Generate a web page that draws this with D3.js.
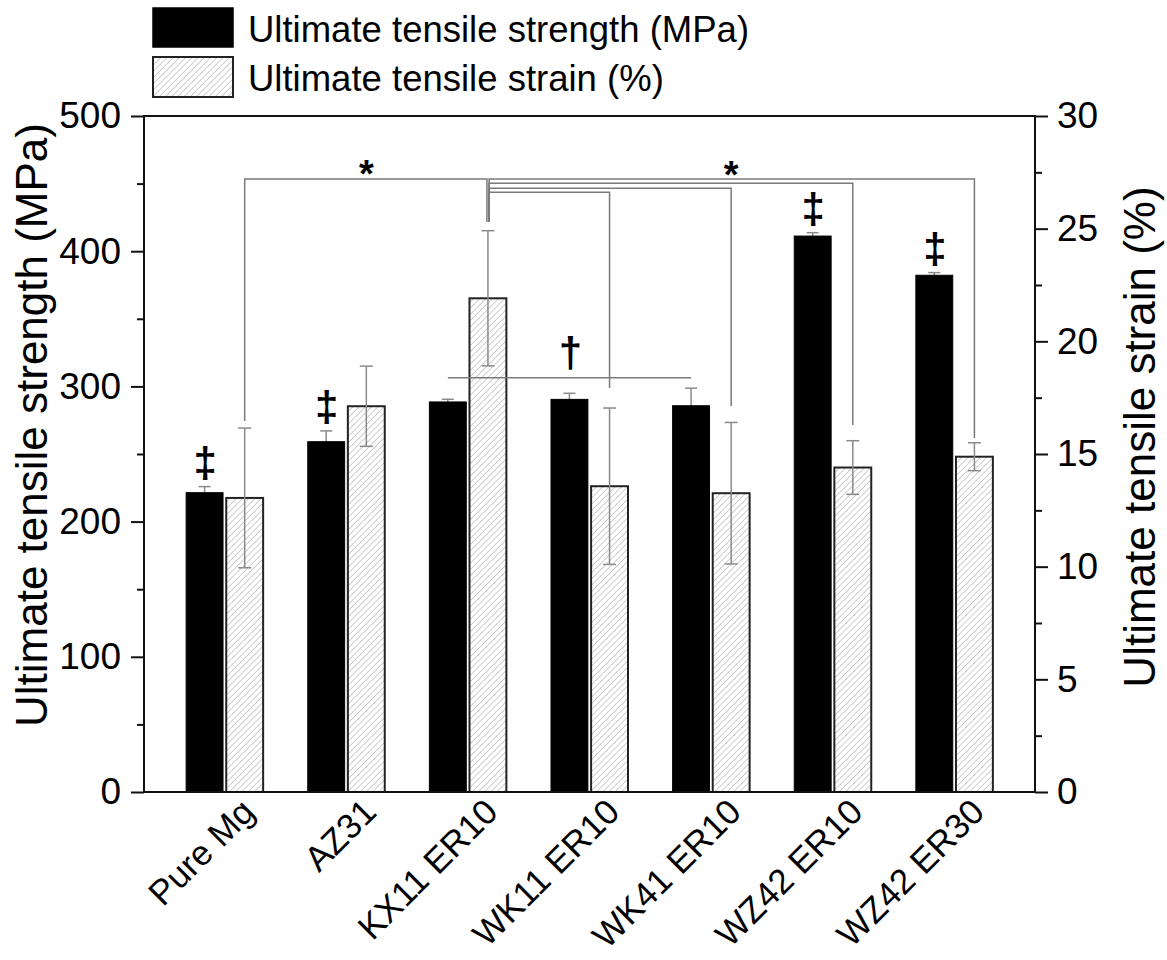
<!DOCTYPE html>
<html>
<head>
<meta charset="utf-8">
<script src="https://cdn.jsdelivr.net/npm/d3@7"></script>
<style>
  html, body { margin: 0; padding: 0; background: #fff; }
  svg { display: block; font-family: Arial, "Liberation Sans", sans-serif; }
</style>
</head>
<body>
<svg id="chart" width="1167" height="960"></svg>
<script>
// ---------- data ----------
const categories = ["Pure Mg", "AZ31", "KX11 ER10", "WK11 ER10", "WK41 ER10", "WZ42 ER10", "WZ42 ER30"];
const utsValues = [221.4, 259.1, 288.5, 290.4, 285.7, 411.2, 382.2];
const utsErrors = [4.5, 8, 2, 4.5, 13, 2.5, 2];
const strainValues = [13.05, 17.12, 21.91, 13.57, 13.26, 14.40, 14.88];
const strainErrors = [3.1, 1.78, 3.0, 3.47, 3.14, 1.19, 0.62];
const leftTicks = [0, 100, 200, 300, 400, 500];
const leftMinorTicks = [50, 150, 250, 350, 450];
const rightTicks = [0, 5, 10, 15, 20, 25, 30];
const rightMinorTicks = [2.5, 7.5, 12.5, 17.5, 22.5, 27.5];
const seriesNames = ["Ultimate tensile strength (MPa)", "Ultimate tensile strain (%)"];
const leftTitle = "Ultimate tensile strength (MPa)";
const rightTitle = "Ultimate tensile strain (%)";
// significance brackets (levels in MPa, between strain bars)
const bracketFrom = ["Pure Mg", "KX11 ER10", "KX11 ER10", "KX11 ER10", "KX11 ER10"];
const bracketTo = ["KX11 ER10", "WZ42 ER30", "WZ42 ER10", "WK41 ER10", "WK11 ER10"];
const bracketLevel = [453.4, 453.4, 450.2, 446.5, 443.6];
const bracketLegFrom = [274.4, 421.6, 421.6, 421.6, 421.6];
const bracketLegTo = [421.6, 261.8, 271.5, 285.5, 298.8];
const starBrackets = [0, 1];
// dagger line between strength bars
const daggerFrom = "KX11 ER10", daggerTo = "WK41 ER10", daggerLevel = 306.4;
const doubleDaggerCats = ["Pure Mg", "AZ31", "WZ42 ER10", "WZ42 ER30"];

// ---------- layout ----------
const svg = d3.select("#chart");
const L = 144, R = 1035, T = 116, B = 792;
const FONT = "Arial, 'Liberation Sans', sans-serif";

const x = d3.scalePoint().domain(categories).range([L, R]).padding(0.663);
const sub = d3.scaleBand().domain(["uts", "ute"]).range([-38.5, 38.5]).paddingInner(0.08);
const yL = d3.scaleLinear().domain([0, 500]).range([B, T]);
const yR = d3.scaleLinear().domain([0, 30]).range([B, T]);
const bw = sub.bandwidth();
const cx = (cat, s) => x(cat) + sub(s) + bw / 2;

// hatch pattern
const defs = svg.append("defs");
const pat = defs.append("pattern").attr("id", "hatch").attr("patternUnits", "userSpaceOnUse")
  .attr("width", 4.4).attr("height", 4.4).attr("patternTransform", "rotate(45)");
pat.append("rect").attr("width", 4.4).attr("height", 4.4).attr("fill", "#fff");
pat.append("line").attr("x1", 0).attr("y1", 0).attr("x2", 0).attr("y2", 4.4)
  .attr("stroke", "#a8a8a8").attr("stroke-width", 1.1);

const data = categories.map((c, i) => ({ c, uts: utsValues[i], utsE: utsErrors[i], ute: strainValues[i], uteE: strainErrors[i] }));

const errColor = "#8a8a8a";
const brColor = "#7a7a7a";

// strength error bars (behind black bars)
const gE1 = svg.append("g");
data.forEach(d => {
  const xc = cx(d.c, "uts");
  gE1.append("line").attr("x1", xc).attr("x2", xc).attr("y1", yL(d.uts - d.utsE)).attr("y2", yL(d.uts + d.utsE))
    .attr("stroke", errColor).attr("stroke-width", 1.5);
  gE1.append("line").attr("x1", xc - 6).attr("x2", xc + 6).attr("y1", yL(d.uts + d.utsE)).attr("y2", yL(d.uts + d.utsE))
    .attr("stroke", errColor).attr("stroke-width", 1.5);
});

// bars
svg.append("g").selectAll("rect").data(data).join("rect")
  .attr("x", d => x(d.c) + sub("uts")).attr("width", bw)
  .attr("y", d => yL(d.uts)).attr("height", d => B - yL(d.uts))
  .attr("fill", "#000").attr("stroke", "#000").attr("stroke-width", 1);
svg.append("g").selectAll("rect").data(data).join("rect")
  .attr("x", d => x(d.c) + sub("ute")).attr("width", bw)
  .attr("y", d => yR(d.ute)).attr("height", d => B - yR(d.ute))
  .attr("fill", "url(#hatch)").attr("stroke", "#222").attr("stroke-width", 2);

// strain error bars
const gE2 = svg.append("g");
data.forEach(d => {
  const xc = cx(d.c, "ute");
  const y1 = yR(d.ute - d.uteE), y2 = yR(d.ute + d.uteE);
  gE2.append("line").attr("x1", xc).attr("x2", xc).attr("y1", y1).attr("y2", y2)
    .attr("stroke", errColor).attr("stroke-width", 1.5);
  [y1, y2].forEach(yy => gE2.append("line").attr("x1", xc - 6.5).attr("x2", xc + 6.5).attr("y1", yy).attr("y2", yy)
    .attr("stroke", errColor).attr("stroke-width", 1.5));
});

// brackets
const gB = svg.append("g").attr("fill", "none").attr("stroke", brColor).attr("stroke-width", 1.5);
bracketFrom.forEach((a, i) => {
  const xa = cx(a, "ute") + (i === 0 ? 0 : 1.2);
  const xb = cx(bracketTo[i], "ute") + (i === 0 ? -1 : 0);
  const yl = yL(bracketLevel[i]);
  gB.append("path").attr("d", `M${xa},${yL(bracketLegFrom[i])}V${yl}H${xb}V${yL(bracketLegTo[i])}`);
});
starBrackets.forEach(i => {
  const xa = cx(bracketFrom[i], "ute"), xb = cx(bracketTo[i], "ute");
  svg.append("text").attr("x", (xa + xb) / 2).attr("y", yL(bracketLevel[i]) + 8 + i)
    .attr("text-anchor", "middle").attr("font-size", 38).attr("font-weight", "bold").text("*");
});
// dagger
gB.append("line").attr("x1", cx(daggerFrom, "uts")).attr("x2", cx(daggerTo, "uts"))
  .attr("y1", yL(daggerLevel)).attr("y2", yL(daggerLevel));
svg.append("text").attr("x", (cx(daggerFrom, "uts") + cx(daggerTo, "uts")) / 2 + 1).attr("y", yL(daggerLevel) - 11)
  .attr("text-anchor", "middle").attr("font-size", 42).attr("font-weight", "bold").text("†");
// double daggers
data.filter(d => doubleDaggerCats.includes(d.c)).forEach(d => {
  svg.append("text").attr("x", cx(d.c, "uts") + 0.5).attr("y", yL(d.uts + d.utsE) - 10)
    .attr("text-anchor", "middle").attr("font-size", 42).attr("font-weight", "bold").text("‡");
});

// frame
svg.append("rect").attr("x", L).attr("y", T).attr("width", R - L).attr("height", B - T)
  .attr("fill", "none").attr("stroke", "#111").attr("stroke-width", 2);

// left axis
const axL = svg.append("g").attr("transform", `translate(${L},0)`)
  .call(d3.axisLeft(yL).tickValues(leftTicks).tickSize(13).tickPadding(10).tickFormat(d3.format("d")));
axL.select(".domain").remove();
axL.selectAll("line").attr("stroke", "#111").attr("stroke-width", 2);
axL.selectAll("text").attr("font-size", 37).attr("fill", "#000").attr("font-family", FONT);
const axLm = svg.append("g").attr("transform", `translate(${L},0)`)
  .call(d3.axisLeft(yL).tickValues(leftMinorTicks).tickSize(7).tickFormat(""));
axLm.select(".domain").remove();
axLm.selectAll("line").attr("stroke", "#111").attr("stroke-width", 2);

// right axis
const axR = svg.append("g").attr("transform", `translate(${R},0)`)
  .call(d3.axisRight(yR).tickValues(rightTicks).tickSize(13).tickPadding(9).tickFormat(d3.format("d")));
axR.select(".domain").remove();
axR.selectAll("line").attr("stroke", "#111").attr("stroke-width", 2);
axR.selectAll("text").attr("font-size", 37).attr("fill", "#000").attr("font-family", FONT);
const axRm = svg.append("g").attr("transform", `translate(${R},0)`)
  .call(d3.axisRight(yR).tickValues(rightMinorTicks).tickSize(7).tickFormat(""));
axRm.select(".domain").remove();
axRm.selectAll("line").attr("stroke", "#111").attr("stroke-width", 2);

// x labels
svg.append("g").selectAll("text").data(categories).join("text")
  .attr("transform", d => `translate(${x(d) + 32},${B + 22}) rotate(-45)`)
  .attr("text-anchor", "end").attr("font-size", 35).text(d => d);

// axis titles
svg.append("text").attr("transform", `translate(47,425) rotate(-90)`)
  .attr("text-anchor", "middle").attr("font-size", 44).text(leftTitle);
svg.append("text").attr("transform", `translate(1155,437) rotate(-90)`)
  .attr("text-anchor", "middle").attr("font-size", 44).text(rightTitle);

// legend
const lg = svg.append("g");
lg.append("rect").attr("x", 153).attr("y", 8).attr("width", 80).attr("height", 39)
  .attr("fill", "#000").attr("stroke", "#000").attr("stroke-width", 1.5);
lg.append("rect").attr("x", 153).attr("y", 57).attr("width", 80).attr("height", 40)
  .attr("fill", "url(#hatch)").attr("stroke", "#222").attr("stroke-width", 2);
lg.append("text").attr("x", 248).attr("y", 42).attr("font-size", 36.5).text(seriesNames[0]);
lg.append("text").attr("x", 248).attr("y", 91).attr("font-size", 36.5).text(seriesNames[1]);
</script>
</body>
</html>
